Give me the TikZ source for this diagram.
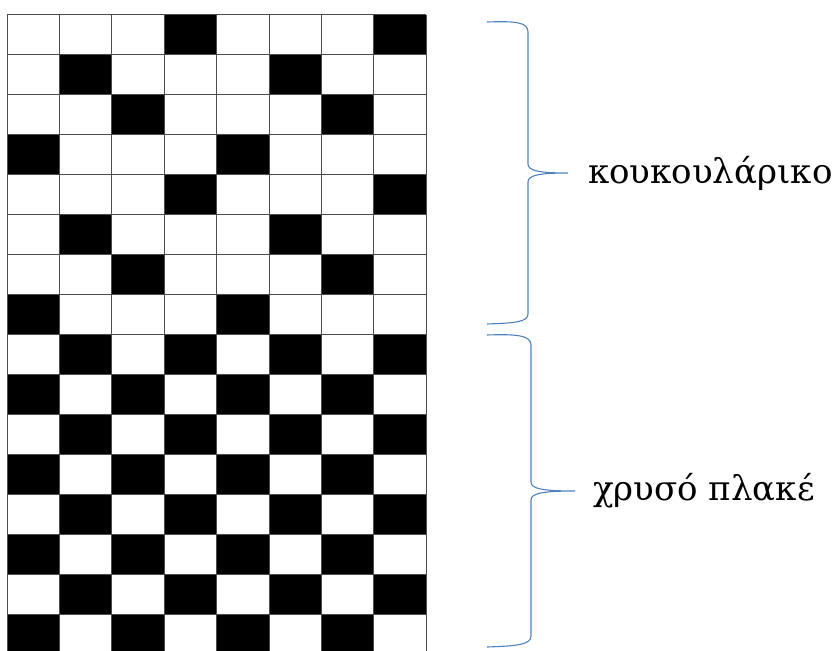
\documentclass[tikz,border=0pt]{standalone}
\usepackage{fontspec}
\setmainfont{DejaVu Serif}
\usetikzlibrary{positioning}

\definecolor{braceblue}{RGB}{79,129,189}

\begin{document}
\begin{tikzpicture}[
    x=1pt, y=-1pt,
    cell/.style={fill=black},
    gridline/.style={draw=black!70, line width=0.9pt},
    bracket/.style={draw=braceblue, line width=1.1pt},
    lbl/.style={font=\fontsize{34}{36}\selectfont, anchor=west, inner sep=0pt}
]
\useasboundingbox (0,0) rectangle (839,651);
\clip (0,0) rectangle (839,651);

% black cells, row / columns
\foreach \r/\cols in {0/{3,7},1/{1,5},2/{2,6},3/{0,4},4/{3,7},5/{1,5},6/{2,6},7/{0,4},
                      8/{1,3,5,7},9/{0,2,4,6},10/{1,3,5,7},11/{0,2,4,6},
                      12/{1,3,5,7},13/{0,2,4,6},14/{1,3,5,7},15/{0,2,4,6}}{
  \foreach \c in \cols
    \fill[cell] (7+52.4*\c,14.7+40*\r) rectangle ++(52.4,40);
}

% grid lines
\foreach \c in {0,...,8}
  \draw[gridline] (7+52.4*\c,14.7) -- (7+52.4*\c,660);
\foreach \r in {0,...,15}
  \draw[gridline] (7,14.7+40*\r) -- (426.2,14.7+40*\r);

% braces
\coordinate (tipA) at (568,173);
\coordinate (tipB) at (575,491);

\draw[bracket] (487,22) .. controls (515,21) and (528,22) .. (528,32)
  -- (528,164) .. controls (528,171) and (540,173) .. (tipA)
  .. controls (540,173) and (528,175) .. (528,182)
  -- (528,314) .. controls (528,322) and (515,323) .. (487,324);

\draw[bracket] (487,335) .. controls (515,334) and (531,335) .. (531,345)
  -- (531,482) .. controls (531,489) and (544,491) .. (tipB)
  .. controls (544,491) and (531,493) .. (531,500)
  -- (531,636) .. controls (531,645) and (515,646) .. (487,647);

% labels
\node[lbl, right=20pt of tipA] (koukoularik) {κουκουλάρικο};
\node[lbl, right=18pt of tipB] (chrysoplake) {χρυσό πλακέ};

\end{tikzpicture}
\end{document}
